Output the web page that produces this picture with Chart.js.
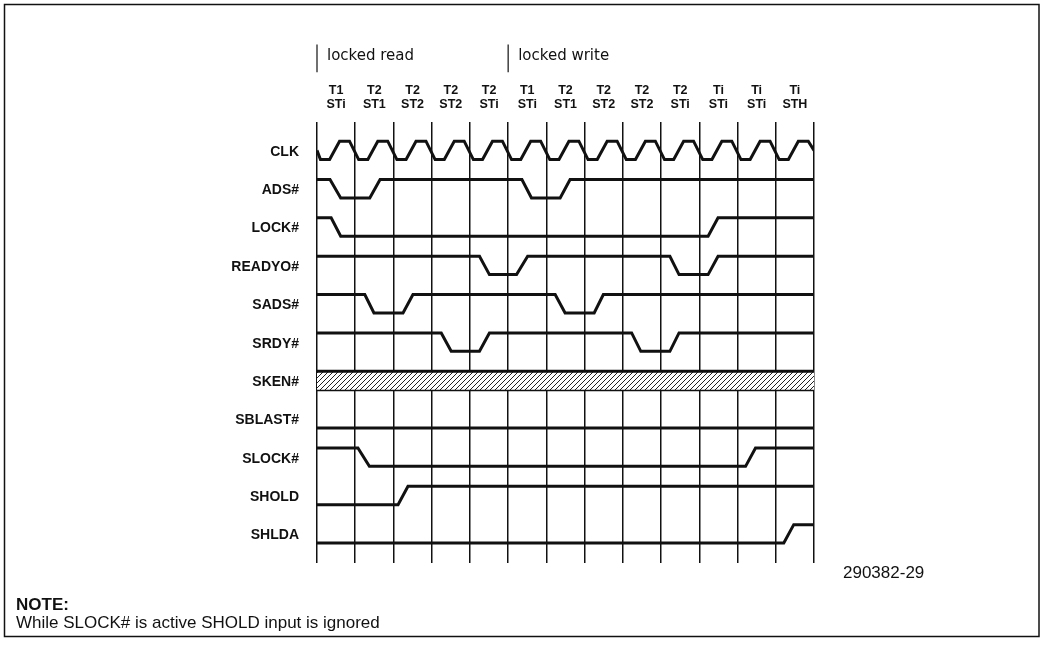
<!DOCTYPE html>
<html>
<head>
<meta charset="utf-8">
<script src="https://cdn.jsdelivr.net/npm/chart.js@4.4.0/dist/chart.umd.min.js"></script>
<style>
  html, body { margin: 0; padding: 0; background: #fff; }
  #wrap { width: 1042px; height: 649px; }
</style>
</head>
<body>
<div id="wrap"><canvas id="myChart" width="1042" height="649"></canvas></div>
<script>
// signal names, top to bottom
var signalNames = ['CLK', 'ADS#', 'LOCK#', 'READYO#', 'SADS#', 'SRDY#', 'SKEN#', 'SBLAST#', 'SLOCK#', 'SHOLD', 'SHLDA'];

// bus states per clock (13 clocks)
var cpuStates = ['T1', 'T2', 'T2', 'T2', 'T2', 'T1', 'T2', 'T2', 'T2', 'T2', 'Ti', 'Ti', 'Ti'];
var slaveStates = ['STi', 'ST1', 'ST2', 'ST2', 'STi', 'STi', 'ST1', 'ST2', 'ST2', 'STi', 'STi', 'STi', 'STH'];

// cycle groups: start clock + name
var groupStarts = [0, 5];
var groupNames = ['locked read', 'locked write'];

// one clock period shape [time in period, level]
var clkShape = [[0.09, 0], [0.33, 0], [0.59, 1], [0.85, 1]];

// waveforms: [time (clocks), level 1=high 0=low]
var ads    = [[0, 1], [0.34, 1], [0.62, 0], [1.38, 0], [1.65, 1], [5.36, 1], [5.61, 0], [6.36, 0], [6.62, 1], [13, 1]];
var lock   = [[0, 1], [0.37, 1], [0.62, 0], [10.23, 0], [10.49, 1], [13, 1]];
var readyo = [[0, 1], [4.25, 1], [4.51, 0], [5.22, 0], [5.51, 1], [9.23, 1], [9.47, 0], [10.23, 0], [10.49, 1], [13, 1]];
var sads   = [[0, 1], [1.25, 1], [1.49, 0], [2.25, 0], [2.51, 1], [6.23, 1], [6.49, 0], [7.25, 0], [7.49, 1], [13, 1]];
var srdy   = [[0, 1], [3.25, 1], [3.51, 0], [4.25, 0], [4.51, 1], [8.23, 1], [8.47, 0], [9.23, 0], [9.47, 1], [13, 1]];
var sblast = [[0, 0], [13, 0]];
var slock  = [[0, 1], [1.07, 1], [1.37, 0], [11.21, 0], [11.47, 1], [13, 1]];
var shold  = [[0, 0], [2.12, 0], [2.38, 1], [13, 1]];
var shlda  = [[0, 0], [12.21, 0], [12.47, 1], [13, 1]];
var skenRow = 6;

var numClocks = cpuStates.length;
var swing = 0.48;

function toPoints(wave, row) {
    return wave.map(function (p) {
        return { x: p[0], y: row + (1 - p[1]) * swing };
    });
}

// clock: repeat the period shape for every clock
var clk = [[0, 0.5]];
for (var c = 0; c < numClocks; c++) {
    clkShape.forEach(function (p) { clk.push([c + p[0], p[1]]); });
}
clk.push([numClocks, 0.5]);

function lineSet(points) {
    return { data: points, borderColor: '#111', borderWidth: 3, pointRadius: 0, fill: false, tension: 0 };
}

// hatch pattern for SKEN#
function makeHatch() {
    var c = document.createElement('canvas');
    c.width = 5; c.height = 5;
    var g = c.getContext('2d');
    g.fillStyle = '#fff';
    g.fillRect(0, 0, 5, 5);
    g.strokeStyle = '#222';
    g.lineWidth = 1;
    g.beginPath();
    g.moveTo(0, 5); g.lineTo(5, 0);
    g.moveTo(-1, 1); g.lineTo(1, -1);
    g.moveTo(4, 6); g.lineTo(6, 4);
    g.stroke();
    return g.createPattern(c, 'repeat');
}

var datasets = [
    lineSet(toPoints(clk, 0)),
    lineSet(toPoints(ads, 1)),
    lineSet(toPoints(lock, 2)),
    lineSet(toPoints(readyo, 3)),
    lineSet(toPoints(sads, 4)),
    lineSet(toPoints(srdy, 5)),
    lineSet(toPoints(sblast, 7)),
    lineSet(toPoints(slock, 8)),
    lineSet(toPoints(shold, 9)),
    lineSet(toPoints(shlda, 10))
];
var skenTop = lineSet(toPoints([[0, 1], [13, 1]], skenRow));
skenTop.fill = '+1';
skenTop.backgroundColor = makeHatch();
var skenBottom = lineSet(toPoints([[0, 0], [13, 0]], skenRow));
datasets.push(skenTop, skenBottom);

// texts, frame, header
var textPlugin = {
    id: 'textPlugin',
    afterDraw: function (chart) {
        var ctx = chart.ctx;
        var xs = chart.scales.x, ys = chart.scales.y;
        ctx.save();
        ctx.fillStyle = '#111';
        ctx.strokeStyle = '#111';

        // frame
        ctx.lineWidth = 1.5;
        ctx.strokeRect(4.5, 4.5, 1034.5, 632);

        // signal labels
        ctx.font = 'bold 14px "Liberation Sans", Arial, sans-serif';
        ctx.textAlign = 'right';
        ctx.textBaseline = 'middle';
        signalNames.forEach(function (name, i) {
            ctx.fillText(name, xs.getPixelForValue(0) - 18, ys.getPixelForValue(i + 0.28));
        });

        // state labels
        ctx.textAlign = 'center';
        ctx.font = 'bold 12.5px "Liberation Sans", Arial, sans-serif';
        for (var k = 0; k < numClocks; k++) {
            var cx = xs.getPixelForValue(k + 0.5);
            ctx.fillText(cpuStates[k], cx, ys.getPixelForValue(-1.33));
            ctx.fillText(slaveStates[k], cx, ys.getPixelForValue(-0.96));
        }

        // group markers
        ctx.textAlign = 'left';
        ctx.font = '15px "DejaVu Sans", sans-serif';
        ctx.lineWidth = 1.2;
        groupStarts.forEach(function (g, i) {
            var gx = xs.getPixelForValue(g);
            ctx.beginPath();
            ctx.moveTo(gx, ys.getPixelForValue(-2.52));
            ctx.lineTo(gx, ys.getPixelForValue(-1.8));
            ctx.stroke();
            ctx.fillText(groupNames[i], gx + 10, ys.getPixelForValue(-2.22));
        });

        // figure number + note
        ctx.font = '17px "Liberation Sans", Arial, sans-serif';
        ctx.fillText('290382-29', 843, 573);
        ctx.font = 'bold 17px "Liberation Sans", Arial, sans-serif';
        ctx.fillText('NOTE:', 16, 605);
        ctx.font = '17px "Liberation Sans", Arial, sans-serif';
        ctx.fillText('While SLOCK# is active SHOLD input is ignored', 16, 623);
        ctx.restore();
    }
};

var ctx = document.getElementById('myChart').getContext('2d');
var myChart = new Chart(ctx, {
    type: 'line',
    data: { datasets: datasets },
    options: {
        responsive: false,
        animation: false,
        events: [],
        layout: { padding: { left: 317, right: 228, top: 122, bottom: 86 } },
        scales: {
            x: {
                type: 'linear',
                min: 0,
                max: numClocks,
                ticks: { stepSize: 1, display: false },
                grid: { color: '#111', lineWidth: 1.5, drawTicks: false },
                border: { display: false }
            },
            y: {
                type: 'linear',
                reverse: true,
                min: -0.5,
                max: 11,
                display: false
            }
        },
        plugins: {
            legend: { display: false },
            tooltip: { enabled: false }
        }
    },
    plugins: [textPlugin]
});
</script>
</body>
</html>
